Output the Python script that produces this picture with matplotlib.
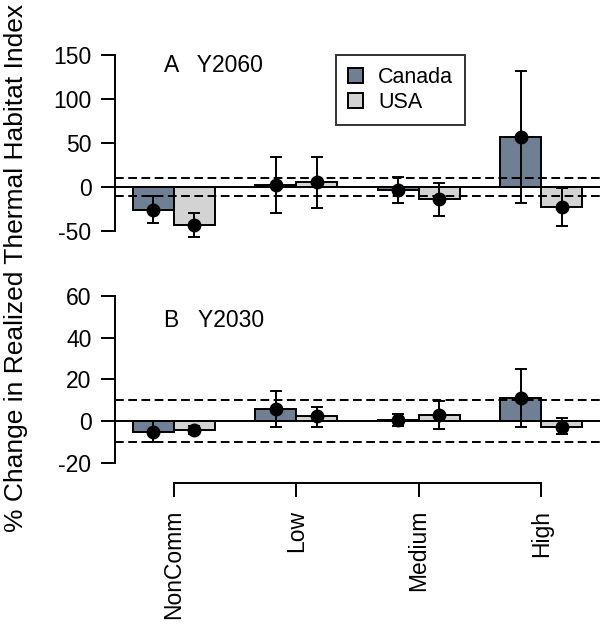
import matplotlib
matplotlib.use("Agg")
import matplotlib.pyplot as plt
from matplotlib.patches import Patch

plt.rcParams["font.family"] = ["Liberation Sans", "DejaVu Sans"]
plt.rcParams["axes.unicode_minus"] = False

categories = ["NonComm", "Low", "Medium", "High"]

# Panel A, Y2060
a_canada = [-26.0, 2.5, -3.8, 57.0]
a_canada_lo = [-41.6, -30.3, -18.9, -18.2]
a_canada_hi = [-10.6, 33.4, 11.4, 131.8]
a_usa = [-43.5, 5.5, -14.0, -23.0]
a_usa_lo = [-57.5, -23.9, -33.0, -44.7]
a_usa_hi = [-30.3, 33.4, 3.8, -1.8]

# Panel B, Y2030
b_canada = [-5.3, 6.0, 0.5, 11.2]
b_canada_lo = [-10.3, -3.0, -2.2, -2.7]
b_canada_hi = [0.2, 14.5, 3.2, 24.9]
b_usa = [-4.3, 2.5, 2.9, -2.7]
b_usa_lo = [-6.4, -2.7, -4.0, -6.3]
b_usa_hi = [-2.2, 6.9, 9.8, 1.3]

CANADA_COL = "#6f7f94"
USA_COL = "#d3d3d3"
LW = 1.4
W, H = 606, 625


def px_axes(fig, left, top, right, bottom):
    return fig.add_axes([left / W, 1 - bottom / H, (right - left) / W, (bottom - top) / H])


def draw_panel(ax, can, can_lo, can_hi, usa, usa_lo, usa_hi, title, title_y):
    x_can = [1.5 + 3 * i for i in range(len(categories))]
    x_usa = [2.5 + 3 * i for i in range(len(categories))]
    ax.bar(x_can, can, width=1, color=CANADA_COL, edgecolor="black", linewidth=LW, zorder=2)
    ax.bar(x_usa, usa, width=1, color=USA_COL, edgecolor="black", linewidth=LW, zorder=2)

    ax.axhline(0, color="black", lw=LW, zorder=3)
    for lvl in (10, -10):
        ax.axhline(lvl, color="black", lw=LW, ls=(0, (4.5, 2.3)), zorder=3)

    for xs, v, lo, hi in ((x_can, can, can_lo, can_hi), (x_usa, usa, usa_lo, usa_hi)):
        err = [[a - b for a, b in zip(v, lo)], [b - a for a, b in zip(v, hi)]]
        ax.errorbar(xs, v, yerr=err, fmt="o", color="black", ms=9,
                    elinewidth=LW, capsize=4.5, capthick=LW, zorder=4)

    ax.set_xlim(0.56, 12.44)
    ax.spines["top"].set_visible(False)
    ax.spines["right"].set_visible(False)
    ax.spines["left"].set_linewidth(LW)
    ax.spines["bottom"].set_linewidth(LW)
    ax.tick_params(length=10, width=LW, labelsize=16.5, pad=7)
    ax.text(0.1, title_y, title, transform=ax.transAxes, fontsize=16.5, va="center")


fig = plt.figure(figsize=(W / 100, H / 100), dpi=100)

# top panel
ax1 = px_axes(fig, 115, 45, 600, 250)
draw_panel(ax1, a_canada, a_canada_lo, a_canada_hi, a_usa, a_usa_lo, a_usa_hi, "A   Y2060", 0.9)
ax1.set_ylim(-71.9, 161.0)
ax1.set_yticks([-50, 0, 50, 100, 150])
ax1.spines["left"].set_bounds(-50, 150)
ax1.spines["bottom"].set_visible(False)
ax1.set_xticks([])

leg = ax1.legend(handles=[Patch(facecolor=CANADA_COL, edgecolor="black", lw=LW, label="Canada"),
                          Patch(facecolor=USA_COL, edgecolor="black", lw=LW, label="USA")],
                 loc="upper left", bbox_to_anchor=(336 / W, 1 - 55 / H),
                 bbox_transform=fig.transFigure, fontsize=15.5, frameon=True, fancybox=False,
                 handlelength=0.7, handleheight=0.7, handletextpad=0.7,
                 borderpad=0.55, labelspacing=0.2, borderaxespad=0)
leg.get_frame().set_edgecolor("black")
leg.get_frame().set_linewidth(LW)

# bottom panel
ax2 = px_axes(fig, 115, 285, 600, 483.3)
draw_panel(ax2, b_canada, b_canada_lo, b_canada_hi, b_usa, b_usa_lo, b_usa_hi, "B   Y2030", 0.82)
ax2.set_ylim(-30.0, 65.5)
ax2.set_yticks([-20, 0, 20, 40, 60])
ax2.spines["left"].set_bounds(-20, 60)
ax2.set_xticks([2 + 3 * i for i in range(len(categories))])
ax2.set_xticklabels(categories, rotation=90, va="top")
ax2.tick_params(axis="x", pad=9)
ax2.spines["bottom"].set_bounds(2, 11)

fig.text(16 / W, 1 - 268 / H, "% Change in Realized Thermal Habitat Index",
         rotation=90, ha="center", va="center", fontsize=19)

fig.savefig("out.png", dpi=100)
